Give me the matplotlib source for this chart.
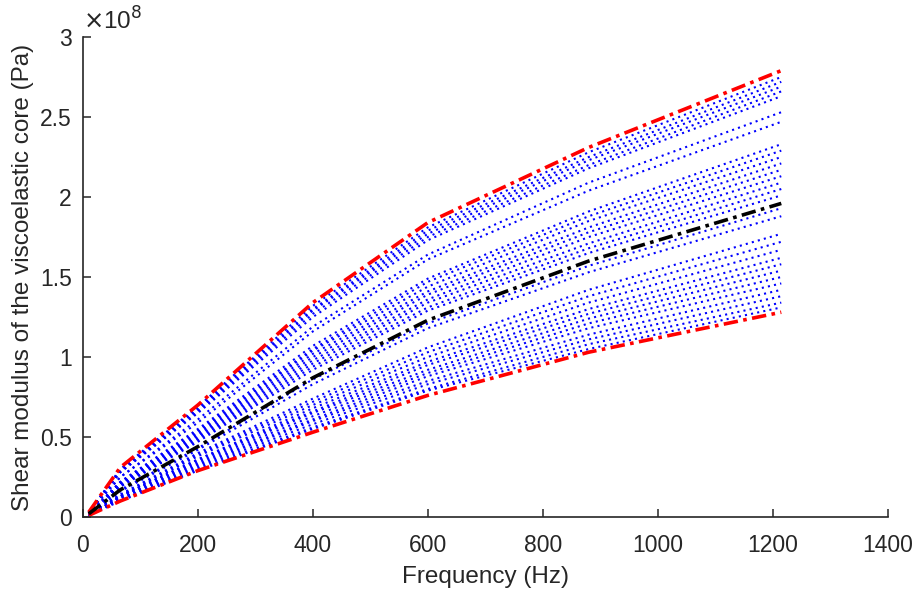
import matplotlib
matplotlib.use('Agg')
import matplotlib.pyplot as plt
import numpy as np

# frequency points (Hz), shared by all curves
freq = [10, 65, 200, 400, 600, 880, 1215]

# shear modulus, in units of 1e8 Pa
upper = [0.03, 0.31, 0.70, 1.34, 1.84, 2.31, 2.79]
mean = [0.02, 0.17, 0.44, 0.87, 1.23, 1.60, 1.96]
lower = [0.01, 0.10, 0.29, 0.53, 0.76, 1.03, 1.28]

samples = [
    [0.03, 0.30, 0.69, 1.32, 1.81, 2.28, 2.75],
    [0.03, 0.29, 0.68, 1.30, 1.79, 2.25, 2.72],
    [0.03, 0.29, 0.67, 1.29, 1.77, 2.23, 2.69],
    [0.03, 0.28, 0.66, 1.27, 1.75, 2.20, 2.66],
    [0.03, 0.28, 0.65, 1.25, 1.73, 2.18, 2.63],
    [0.03, 0.25, 0.61, 1.19, 1.64, 2.09, 2.53],
    [0.03, 0.25, 0.59, 1.16, 1.61, 2.04, 2.47],
    [0.02, 0.22, 0.55, 1.07, 1.49, 1.91, 2.33],
    [0.02, 0.22, 0.54, 1.05, 1.47, 1.88, 2.29],
    [0.02, 0.21, 0.53, 1.04, 1.44, 1.85, 2.25],
    [0.02, 0.21, 0.52, 1.02, 1.41, 1.81, 2.21],
    [0.02, 0.21, 0.51, 1.00, 1.39, 1.78, 2.17],
    [0.02, 0.20, 0.50, 0.98, 1.36, 1.75, 2.13],
    [0.02, 0.20, 0.49, 0.96, 1.34, 1.71, 2.09],
    [0.02, 0.19, 0.48, 0.94, 1.31, 1.68, 2.05],
    [0.02, 0.19, 0.47, 0.92, 1.29, 1.65, 2.01],
    [0.02, 0.17, 0.43, 0.86, 1.21, 1.57, 1.93],
    [0.02, 0.16, 0.42, 0.83, 1.18, 1.53, 1.88],
    [0.02, 0.14, 0.40, 0.74, 1.06, 1.42, 1.77],
    [0.02, 0.14, 0.39, 0.72, 1.03, 1.38, 1.72],
    [0.02, 0.13, 0.38, 0.70, 1.00, 1.34, 1.67],
    [0.01, 0.13, 0.36, 0.68, 0.97, 1.30, 1.62],
    [0.01, 0.13, 0.36, 0.66, 0.95, 1.27, 1.58],
    [0.01, 0.12, 0.35, 0.65, 0.92, 1.24, 1.54],
    [0.01, 0.12, 0.34, 0.63, 0.90, 1.21, 1.50],
    [0.01, 0.12, 0.33, 0.61, 0.88, 1.18, 1.46],
    [0.01, 0.11, 0.32, 0.60, 0.85, 1.14, 1.42],
    [0.01, 0.11, 0.31, 0.58, 0.83, 1.11, 1.38],
    [0.01, 0.11, 0.30, 0.56, 0.80, 1.08, 1.34],
    [0.01, 0.10, 0.29, 0.55, 0.79, 1.05, 1.31],
]

xticks = [0, 200, 400, 600, 800, 1000, 1200, 1400]
yticks = [0, 0.5, 1, 1.5, 2, 2.5, 3]
ytick_labels = ['0', '0.5', '1', '1.5', '2', '2.5', '3']

plt.rcParams['font.family'] = ['Liberation Sans', 'DejaVu Sans']
axcol = '#262626'
fs_tick = 16.5
fs_lab = 17.5

fig = plt.figure(figsize=(9.16, 5.97), dpi=100)
ax = fig.add_axes([0.0906, 0.134, 0.8784, 0.804])

for s in samples:
    ax.plot(freq, s, color='blue', ls=(0, (1, 2)), lw=1.5)
ax.plot(freq, upper, color='red', ls=(0, (4, 1.5, 1, 1.5)), lw=2.6)
ax.plot(freq, lower, color='red', ls=(0, (4, 1.5, 1, 1.5)), lw=2.6)
ax.plot(freq, mean, color='black', ls=(0, (4, 1.5, 1, 1.5)), lw=2.6)

ax.set_xlim(0, 1400)
ax.set_ylim(0, 3)
ax.set_xticks(xticks)
ax.set_yticks(yticks)
ax.set_yticklabels(ytick_labels)
ax.tick_params(direction='in', length=6, width=1.1, colors=axcol, labelsize=fs_tick)
ax.tick_params(axis='x', pad=12)
ax.tick_params(axis='y', pad=8)
for side in ['top', 'right']:
    ax.spines[side].set_visible(False)
for side in ['left', 'bottom']:
    ax.spines[side].set_color(axcol)
    ax.spines[side].set_linewidth(1.2)

ax.set_xlabel('Frequency (Hz)', fontsize=fs_lab, color=axcol, labelpad=7)
ax.set_ylabel('Shear modulus of the viscoelastic core (Pa)', fontsize=fs_lab, color=axcol, labelpad=4)
ax.text(0.0, 1.005, r'$\times$10$^{8}$', transform=ax.transAxes, fontsize=fs_tick + 1,
        color=axcol, ha='left', va='bottom')

fig.savefig('out.png', dpi=100)
